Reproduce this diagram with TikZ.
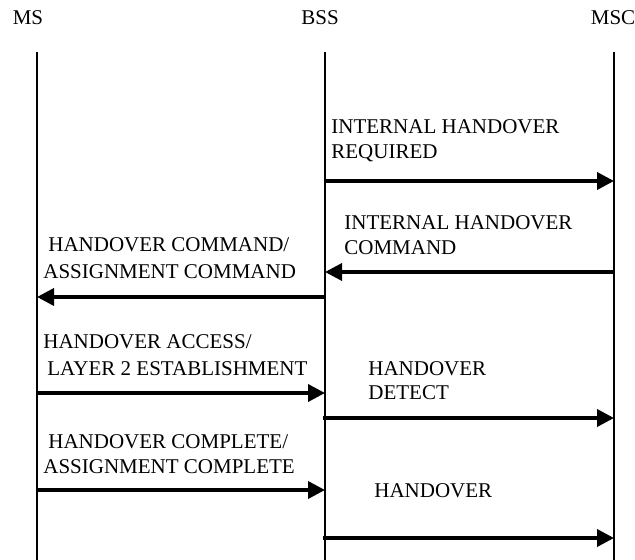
\documentclass[tikz,border=0pt]{standalone}
\usepackage{fontspec}
\setmainfont{Liberation Serif}
\usetikzlibrary{arrows.meta}
\begin{document}
\begin{tikzpicture}[x=0.5pt,y=-0.5pt,
  lbl/.style={anchor=base west,inner sep=0pt,font=\fontsize{10.5}{12.8}\selectfont},
  hdr/.style={anchor=base,inner sep=0pt,font=\fontsize{10.5}{12.8}\selectfont},
  life/.style={line width=0.65pt},
  msg/.style={line width=1.8pt,-{Triangle[length=8.5pt,width=8.5pt]}}]
\useasboundingbox (0,0) rectangle (635,560);
% headers
\node[hdr] (ms)  at (28,25)  {MS};
\node[hdr] (bss) at (320,25) {BSS};
\node[hdr] (msc) at (613,25) {MSC};
% lifelines
\coordinate (msT) at (37,52);   \coordinate (msB) at (37,560);
\coordinate (bssT) at (325,52); \coordinate (bssB) at (325,560);
\coordinate (mscT) at (614,52); \coordinate (mscB) at (614,560);
\draw[life] (msT) -- (msB);
\draw[life] (bssT) -- (bssB);
\draw[life] (mscT) -- (mscB);
% message end points
\coordinate (a1s) at (325,181); \coordinate (a1e) at (614,181);
\coordinate (a2s) at (614,272); \coordinate (a2e) at (325,272);
\coordinate (a3s) at (325,297); \coordinate (a3e) at (37,297);
\coordinate (a4s) at (36,393);  \coordinate (a4e) at (325,393);
\coordinate (a5s) at (323,418); \coordinate (a5e) at (614,418);
\coordinate (a6s) at (36,490);  \coordinate (a6e) at (325,490);
\coordinate (a7s) at (323,538); \coordinate (a7e) at (614,538);
\draw[msg] (a1s) -- (a1e);
\draw[msg] (a2s) -- (a2e);
\draw[msg] (a3s) -- (a3e);
\draw[msg] (a4s) -- (a4e);
\draw[msg] (a5s) -- (a5e);
\draw[msg] (a6s) -- (a6e);
\draw[msg] (a7s) -- (a7e);
% labels
\node[lbl] (l1a) at (331,134) {INTERNAL HANDOVER};
\node[lbl] (l1b) at (331,159) {REQUIRED};
\node[lbl] (l2a) at (344,230) {INTERNAL HANDOVER};
\node[lbl] (l2b) at (344,255) {COMMAND};
\node[lbl] (l3a) at (48,252)  {HANDOVER COMMAND/};
\node[lbl] (l3b) at (43,279)  {ASSIGNMENT COMMAND};
\node[lbl] (l4a) at (43,348)  {HANDOVER ACCESS/};
\node[lbl] (l4b) at (47,375)  {LAYER 2 ESTABLISHMENT};
\node[lbl] (l5a) at (368,375) {HANDOVER};
\node[lbl] (l5b) at (368,399) {DETECT};
\node[lbl] (l6a) at (48,448)  {HANDOVER COMPLETE/};
\node[lbl] (l6b) at (43,473)  {ASSIGNMENT COMPLETE};
\node[lbl] (l7)  at (374,497) {HANDOVER};
\end{tikzpicture}
\end{document}
